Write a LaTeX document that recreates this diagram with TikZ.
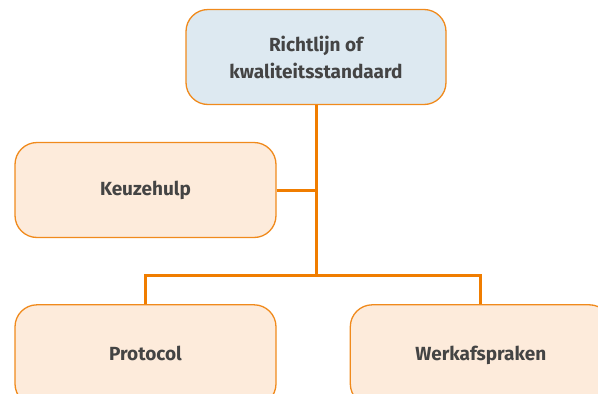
\documentclass[tikz,border=0pt]{standalone}
\usepackage{fontspec}
\setmainfont{Fira Sans}
\usepackage{xcolor}
\usetikzlibrary{positioning}
\definecolor{kgorange}{HTML}{F08A1C}
\definecolor{kglijn}{HTML}{F07D00}
\definecolor{kgblauw}{HTML}{DDE9F1}
\definecolor{kgperzik}{HTML}{FDEBDB}
\definecolor{kgtekst}{HTML}{444444}

\begin{document}
\begin{tikzpicture}[
  x=1pt, y=1pt,
  font=\fontsize{19}{27}\selectfont\bfseries,
  node distance=66pt and 73pt,
  box/.style={draw=kgorange, line width=1.3pt, rounded corners=22pt,
    minimum width=261pt, minimum height=95pt, align=center, text=kgtekst},
  top/.style={box, fill=kgblauw},
  sub/.style={box, fill=kgperzik, text height=14pt, text depth=4pt},
  onder/.style={sub, minimum height=101pt},
  lijn/.style={draw=kglijn, line width=3pt},
]
\clip (0,0) rectangle (598,-394);
\useasboundingbox (0,0) rectangle (598,-394);

% Top level
\node[top, minimum width=260pt] (richt) at (316,-57) {Richtlijn of\\kwaliteitsstandaard};

% Middle
\node[sub] (keuze) at (145.5,-190) {Keuzehulp};

% Bottom row
\node[onder, below=of keuze] (prot) {Protocol};
\node[onder, right=of prot] (werk) {Werkafspraken};

% Joint of the tree
\coordinate (joint) at (richt.south |- 0,-275);

% Edges
\draw[lijn] (richt.south) -- (joint);
\draw[lijn] (keuze.east) -- (keuze.east -| richt.south);
\draw[lijn] (prot.north) |- (joint) -| (werk.north);

\end{tikzpicture}
\end{document}
